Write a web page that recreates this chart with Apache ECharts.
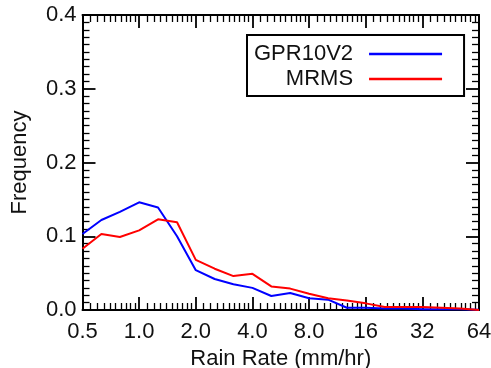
<!DOCTYPE html>
<html>
<head>
<meta charset="utf-8">
<script src="https://cdn.jsdelivr.net/npm/echarts@6/dist/echarts.min.js"></script>
<style>
html,body{margin:0;padding:0;background:#fff;}
#chart{width:491px;height:368px;}
</style>
</head>
<body>
<div id="chart"></div>
<script>
const rainRate = [0.5, 0.63, 0.79, 1.0, 1.26, 1.59, 2.0, 2.52, 3.17, 4.0, 5.04, 6.35, 8.0, 10.1, 12.7, 16.0, 20.2, 25.4, 32.0, 40.3, 50.8, 64.0];
const gpr10v2 = [0.103, 0.122, 0.133, 0.146, 0.139, 0.100, 0.054, 0.042, 0.035, 0.030, 0.019, 0.023, 0.016, 0.014, 0.003, 0.003, 0.002, 0.002, 0.001, 0.001, 0.001, 0.0005];
const mrms = [0.083, 0.103, 0.099, 0.108, 0.123, 0.119, 0.068, 0.056, 0.046, 0.049, 0.032, 0.029, 0.022, 0.016, 0.013, 0.009, 0.004, 0.004, 0.004, 0.003, 0.002, 0.0];
const seriesNames = ['GPR10V2', 'MRMS'];
const xTickLabels = ['0.5', '1.0', '2.0', '4.0', '8.0', '16', '32', '64'];
const yTickLabels = ['0.0', '0.1', '0.2', '0.3', '0.4'];

const FONT = 'Liberation Sans, Arial, Helvetica, sans-serif';
const FS = 22;

function xLabel(v) {
  const r = Math.round(v * 1000) / 1000;
  const idx = Math.round(Math.log2(r / 0.5));
  return xTickLabels[idx] !== undefined ? xTickLabels[idx] : String(r);
}
function yLabel(v) {
  const idx = Math.round(v / 0.1);
  return yTickLabels[idx] !== undefined ? yTickLabels[idx] : v.toFixed(1);
}

function mkLine() { return { show: true, onZero: false, lineStyle: { color: '#000', width: 2 } }; }
function mkTick() { return { show: true, inside: true, length: 13, lineStyle: { color: '#000', width: 1.8 } }; }
function mkMinor() { return { show: true, splitNumber: 10, length: 7, lineStyle: { color: '#000', width: 1.3 } }; }

const chart = echarts.init(document.getElementById('chart'), null, { renderer: 'canvas' });
chart.setOption({
  animation: false,
  backgroundColor: '#fff',
  textStyle: { fontFamily: FONT },
  grid: { left: 82.5, right: 12, top: 15, bottom: 58, outerBoundsMode: 'none' },
  legend: {
    orient: 'vertical', align: 'right', left: 247, top: 35,
    padding: [8, 22, 6, 7], itemGap: 3, itemWidth: 73, itemHeight: 2.5, icon: 'rect',
    borderColor: '#000', borderWidth: 2, borderRadius: 0, backgroundColor: '#fff',
    textStyle: { fontSize: FS, color: '#111', fontFamily: FONT, lineHeight: 21, padding: [0, 11, 0, 0] },
    data: seriesNames
  },
  xAxis: [
    {
      type: 'log', logBase: 2, min: 0.5, max: 64, position: 'bottom',
      name: 'Rain Rate (mm/hr)', nameLocation: 'middle', nameGap: 36,
      nameTextStyle: { fontSize: FS, color: '#111', fontFamily: FONT },
      axisLine: mkLine(), axisTick: mkTick(), minorTick: mkMinor(),
      splitLine: { show: false },
      axisLabel: { show: true, fontSize: FS, color: '#111', margin: 11, fontFamily: FONT, formatter: xLabel }
    },
    {
      type: 'log', logBase: 2, min: 0.5, max: 64, position: 'top',
      axisLine: mkLine(), axisTick: mkTick(), minorTick: mkMinor(),
      splitLine: { show: false },
      axisLabel: { show: false }
    }
  ],
  yAxis: [
    {
      type: 'value', min: 0, max: 0.4, interval: 0.1, position: 'left',
      name: 'Frequency', nameLocation: 'middle', nameGap: 52,
      nameTextStyle: { fontSize: FS, color: '#111', fontFamily: FONT },
      axisLine: mkLine(), axisTick: mkTick(), minorTick: mkMinor(),
      splitLine: { show: false },
      axisLabel: { show: true, fontSize: FS, color: '#111', margin: 6, fontFamily: FONT, formatter: yLabel }
    },
    {
      type: 'value', min: 0, max: 0.4, interval: 0.1, position: 'right',
      axisLine: mkLine(), axisTick: mkTick(), minorTick: mkMinor(),
      splitLine: { show: false },
      axisLabel: { show: false }
    }
  ],
  series: [
    {
      name: seriesNames[0], type: 'line', symbol: 'none',
      color: '#0000ff', lineStyle: { color: '#0000ff', width: 2 },
      data: rainRate.map((x, i) => [x, gpr10v2[i]])
    },
    {
      name: seriesNames[1], type: 'line', symbol: 'none',
      color: '#ff0000', lineStyle: { color: '#ff0000', width: 2 },
      data: rainRate.map((x, i) => [x, mrms[i]])
    }
  ]
});
</script>
</body>
</html>
